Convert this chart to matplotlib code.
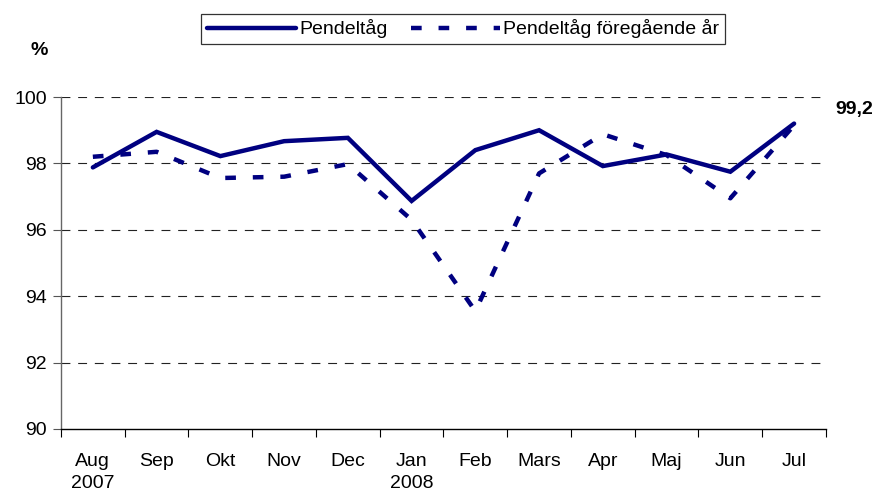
import numpy as np
import matplotlib.pyplot as plt

plt.rcParams['font.family'] = ['Liberation Sans', 'DejaVu Sans']

months = ['Aug\n2007', 'Sep', 'Okt', 'Nov', 'Dec', 'Jan\n2008', 'Feb',
          'Mars', 'Apr', 'Maj', 'Jun', 'Jul']
pendel = [97.88, 98.95, 98.22, 98.67, 98.77, 96.87, 98.40, 99.00, 97.92,
          98.27, 97.75, 99.2]
pendel_prev = [98.20, 98.35, 97.56, 97.60, 97.98, 96.30, 93.55, 97.70,
               98.88, 98.25, 96.95, 99.15]
navy = '#000080'

fig = plt.figure(figsize=(8.8, 4.94), dpi=100)
ax = fig.add_axes([0.0693, 0.1316, 0.8693, 0.672])

x = np.arange(len(months))
ax.plot(x, pendel, color=navy, lw=3.2, solid_capstyle='round',
        solid_joinstyle='miter', label='Pendeltåg', zorder=3)
ax.plot(x, pendel_prev, color=navy, lw=3.2, ls=(0, (2.4, 3.8)),
        label='Pendeltåg föregående år', zorder=3)

ax.set_xlim(-0.5, len(months) - 0.5)
ax.set_ylim(90, 100)
ax.set_yticks(np.arange(90, 101, 2))
ax.set_xticks(x)
ax.set_xticklabels(months, fontsize=14, linespacing=1.45, va='top')
ax.set_xticks(np.arange(-0.5, len(months)), minor=True)
ax.tick_params(axis='x', which='major', length=0, pad=17)
ax.tick_params(axis='x', which='minor', length=6, width=0.8, color='black')
ax.tick_params(axis='y', length=6, width=0.8, color='#555555', labelsize=14, pad=4)

for v in np.arange(92, 101, 2):
    ax.axhline(v, color='#222222', lw=0.8, ls=(0, (8, 7)), zorder=1)

for s in ['top', 'right']:
    ax.spines[s].set_visible(False)
ax.spines['left'].set_color('#666666')
ax.spines['left'].set_linewidth(1.0)
ax.spines['bottom'].set_color('black')
ax.spines['bottom'].set_linewidth(1.0)

ax.text(len(months) - 1 + 0.64, pendel[-1] + 0.41, '99,2', fontsize=14,
        fontweight='bold', ha='left', va='center')
fig.text(0.045, 0.897, '%', fontsize=14, fontweight='bold', ha='center', va='center')

leg = fig.legend(loc='center', bbox_to_anchor=(0.526, 0.9415), ncol=2,
                 frameon=True, fancybox=False, edgecolor='black', fontsize=14,
                 handlelength=4.6, handletextpad=0.15, columnspacing=1.2,
                 borderpad=0.3)
leg.get_frame().set_linewidth(0.9)

fig.savefig('out.png', dpi=100)
